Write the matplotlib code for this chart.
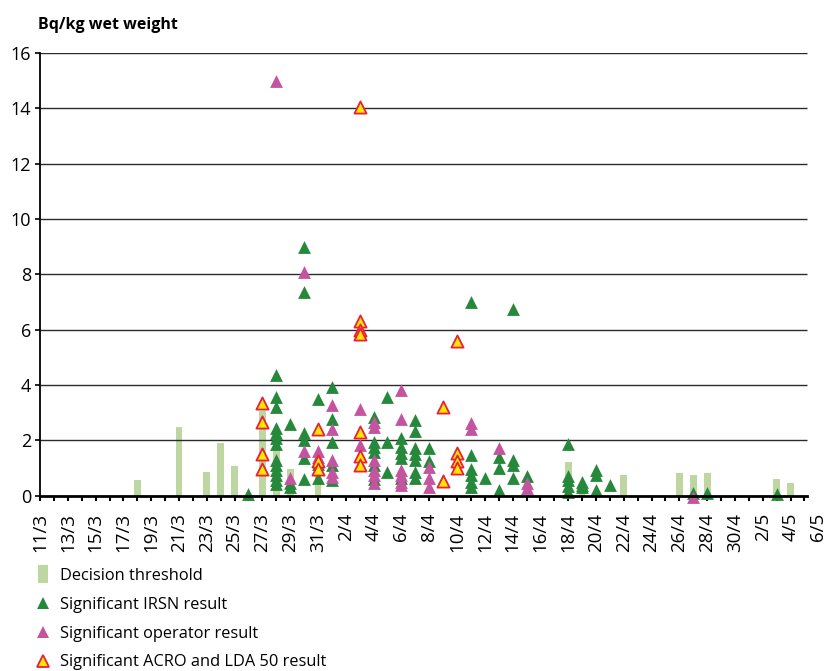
import pandas as pd
import matplotlib.pyplot as plt
from matplotlib.lines import Line2D

plt.rcParams['font.family'] = ['Open Sans', 'DejaVu Sans']

# Day range of the x axis (2011)
start_day = '11/3'
end_day = '6/5'

# Decision threshold bars (Bq/kg wet weight)
threshold_days = ['18/3', '21/3', '23/3', '24/3', '25/3', '27/3', '28/3', '29/3', '31/3',
                  '18/4', '19/4', '22/4', '26/4', '27/4', '28/4', '3/5', '4/5']
threshold_vals = [0.55, 2.48, 0.86, 1.92, 1.07, 3.06, 1.7, 0.97, 0.7,
                  1.23, 0.45, 0.75, 0.83, 0.75, 0.83, 0.6, 0.46]

# Significant IRSN results
irsn = {
    '26/3': [0.05],
    '28/3': [4.35, 3.58, 3.22, 2.44, 2.26, 2.08, 1.87, 1.29, 1.11, 0.93, 0.75, 0.57, 0.42],
    '29/3': [2.6, 0.46, 0.33],
    '30/3': [9.0, 7.35, 2.28, 2.0, 1.35, 0.6],
    '31/3': [3.5, 1.15, 0.65],
    '1/4': [3.93, 2.76, 1.95, 1.1, 0.57],
    '4/4': [2.85, 1.95, 1.77, 1.59, 1.1, 0.6],
    '5/4': [3.58, 1.95, 0.87],
    '6/4': [2.07, 1.75, 1.54, 1.35, 0.63],
    '7/4': [2.74, 2.35, 1.71, 1.5, 1.3, 0.87, 0.63],
    '8/4': [1.72, 1.25],
    '11/4': [7.0, 1.47, 0.95, 0.75, 0.5, 0.33],
    '12/4': [0.63],
    '13/4': [1.41, 0.99, 0.2],
    '14/4': [6.75, 1.29, 1.11, 0.63],
    '15/4': [0.71],
    '18/4': [1.88, 0.72, 0.55, 0.35, 0.15],
    '19/4': [0.5, 0.4, 0.3],
    '20/4': [0.93, 0.75, 0.2],
    '21/4': [0.39],
    '27/4': [0.1],
    '28/4': [0.1],
    '3/5': [0.05],
}

# Significant operator results
operator = {
    '28/3': [15.0],
    '29/3': [0.65],
    '30/3': [8.1, 1.6],
    '31/3': [1.6, 1.4],
    '1/4': [3.28, 2.4, 1.29, 0.87, 0.69],
    '3/4': [3.12, 1.85],
    '4/4': [2.65, 2.5, 1.3, 0.93, 0.75, 0.45],
    '6/4': [3.82, 2.76, 0.93, 0.75, 0.5, 0.4],
    '8/4': [1.03, 0.65, 0.33],
    '11/4': [2.62, 2.42],
    '13/4': [1.71],
    '15/4': [0.45, 0.27],
    '27/4': [-0.05],
}

# Significant ACRO and LDA 50 results
acro = {
    '27/3': [3.34, 2.68, 1.51, 0.97],
    '31/3': [2.4, 1.25, 0.97],
    '3/4': [14.05, 6.3, 6.0, 5.85, 2.29, 1.43, 1.11],
    '9/4': [3.22, 0.53],
    '10/4': [5.6, 1.56, 1.27, 1.0],
}

y_ticks = [0, 2, 4, 6, 8, 10, 12, 14, 16]


def to_date(s):
    return pd.to_datetime(f'{s}/2011', format='%d/%m/%Y')


t0 = to_date(start_day)


def day_index(s):
    return (to_date(s) - t0).days


def flatten(series):
    xs, ys = [], []
    for day, vals in series.items():
        for v in vals:
            xs.append(day_index(day))
            ys.append(v)
    return xs, ys


green = '#26883b'
magenta = '#c4549f'
bar_col = '#bdd6a2'

fig = plt.figure(figsize=(8.26, 6.71), dpi=100)
ax = fig.add_axes([40 / 826, (671 - 495.7) / 671, 778.4 / 826, 442.7 / 671])

n_days = day_index(end_day)
ax.set_xlim(0, n_days)
ax.set_ylim(0, 16)
axis_end = n_days - 0.8

# bars
ax.bar([day_index(d) for d in threshold_days], threshold_vals, width=0.48,
       color=bar_col, zorder=1)

# horizontal grid lines
ax.hlines(y_ticks[1:], 0, axis_end, color='#2b2b2b', lw=1.0, zorder=2)

ms = 85
x, y = flatten(irsn)
ax.scatter(x, y, marker='^', s=ms, color=green, linewidths=0, zorder=3, clip_on=False)
x, y = flatten(operator)
ax.scatter(x, y, marker='^', s=ms, color=magenta, linewidths=0, zorder=4, clip_on=False)
x, y = flatten(acro)
ax.scatter(x, y, marker='^', s=ms * 0.9, facecolor='#ffe600', edgecolor='#e8203a',
           linewidths=1.3, zorder=5, clip_on=False)

# axes styling
for side in ['top', 'right']:
    ax.spines[side].set_visible(False)
ax.spines['left'].set_linewidth(1.3)
ax.spines['bottom'].set_linewidth(2.0)
ax.spines['bottom'].set_bounds(0, axis_end)
ax.spines['bottom'].set_zorder(6)

ax.set_yticks(y_ticks)
ax.tick_params(axis='y', length=3.5, width=1.2, labelsize=13, pad=3)

days = pd.date_range(to_date(start_day), to_date(end_day), freq='D')
ax.set_xticks(range(len(days) - 1), minor=True)
ax.set_xticks(range(0, len(days), 2))
ax.set_xticklabels([f'{d.day}/{d.month}' for d in days[::2]], rotation=90)
ax.tick_params(axis='x', which='both', length=3.5, width=1.5, labelsize=13.5, pad=9)
ax.xaxis.get_major_ticks()[-1].tick1line.set_visible(False)

fig.text(38 / 826, 1 - 25 / 671, 'Bq/kg wet weight', fontsize=11.5, fontweight='bold',
         va='center', ha='left')

# legend
bar_marker = [(-1, -2), (1, -2), (1, 2), (-1, 2), (-1, -2)]
handles = [
    Line2D([], [], ls='', marker=bar_marker, markersize=13, color=bar_col, markeredgewidth=0),
    Line2D([], [], ls='', marker='^', markersize=9, color=green, markeredgewidth=0),
    Line2D([], [], ls='', marker='^', markersize=9, color=magenta, markeredgewidth=0),
    Line2D([], [], ls='', marker='^', markersize=8.5, markerfacecolor='#ffe600',
           markeredgecolor='#e8203a', markeredgewidth=1.3),
]
labels = ['Decision threshold', 'Significant IRSN result',
          'Significant operator result', 'Significant ACRO and LDA 50 result']
fig.legend(handles, labels, loc='upper left', bbox_to_anchor=(35 / 826, 1 - 568 / 671),
           frameon=False, fontsize=11.8, handlelength=1.0, handletextpad=0.55,
           labelspacing=0.78, borderpad=0, borderaxespad=0)

fig.savefig('out.png', dpi=100)
